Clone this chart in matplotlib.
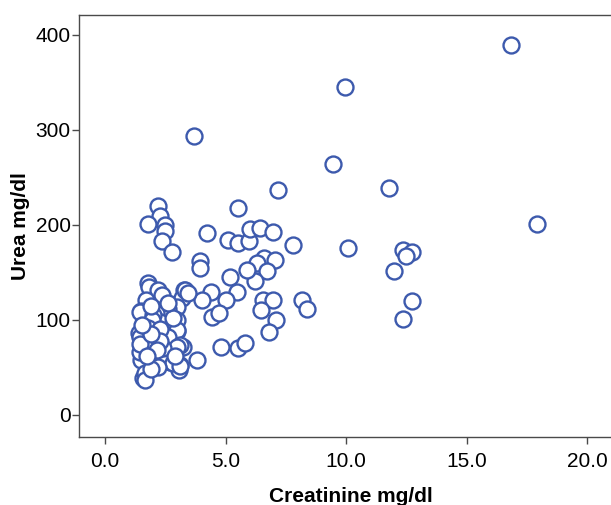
import numpy as np
import matplotlib.pyplot as plt

plt.rcParams['font.family'] = ['Liberation Sans', 'DejaVu Sans']

# creatinine (mg/dl) and urea (mg/dl)
creatinine = [
    16.85, 9.96, 3.69, 9.46, 7.18, 11.78, 17.93, 5.52, 2.20, 2.28,
    1.78, 2.49, 2.49, 2.37, 2.78, 4.23, 5.10, 5.52, 5.98, 6.02,
    6.43, 6.97, 7.80, 10.08, 12.37, 12.74, 12.49, 12.00, 3.94, 3.94,
    6.60, 7.05, 6.31, 6.72, 6.22, 5.89, 5.19, 5.48, 4.40, 4.02,
    5.02, 6.56, 6.97, 6.48, 7.10, 6.80, 8.17, 8.38, 12.74, 12.37,
    4.44, 4.73, 4.81, 5.52, 5.81, 3.82,
    1.78, 1.83, 2.20, 2.36, 1.70, 3.28, 3.20, 3.00, 2.60, 2.10,
    1.50, 2.03, 2.27, 3.00, 2.74, 3.00, 1.42, 1.66, 2.03, 2.50,
    2.92, 3.24, 2.03, 1.50, 2.45, 2.03, 2.68, 1.70, 3.10, 3.07,
    1.70, 1.58, 2.07, 1.50,
    3.32, 1.45, 1.99, 1.95, 3.00, 1.45, 2.00, 2.60, 3.10, 1.45,
    2.50, 3.00, 2.80, 3.10, 1.66, 2.20, 1.66, 3.44,
    1.80, 2.30, 2.80, 1.60, 2.40, 2.90, 1.90, 2.60, 1.90, 2.30,
    1.45, 1.90, 1.55, 2.15, 1.75,
]
urea = [
    389, 345, 294, 264, 237, 239, 201, 218, 220, 209,
    201, 200, 194, 183, 171, 192, 184, 181, 183, 196,
    197, 193, 179, 176, 174, 171, 167, 151, 162, 155,
    165, 163, 160, 152, 141, 153, 145, 129, 129, 121,
    121, 121, 121, 110, 100, 87, 121, 112, 120, 101,
    103, 107, 72, 70, 76, 58,
    139, 135, 132, 126, 121, 132, 123, 114, 111, 107,
    109, 102, 98, 100, 93, 88, 86, 84, 82, 82,
    72, 72, 72, 65, 63, 60, 56, 55, 53, 47,
    45, 39, 51, 58,
    132, 108, 105, 100, 89, 82, 81, 82, 74, 66,
    61, 71, 55, 51, 44, 50, 37, 128,
    92, 90, 102, 75, 70, 62, 48, 118, 115, 78,
    75, 85, 95, 68, 62,
]

x_ticks = [0, 5, 10, 15, 20]
y_ticks = [0, 100, 200, 300, 400]

blue = '#3d5aad'
frame = '#4a4a4a'

fig = plt.figure(figsize=(6.11, 5.05), dpi=100)
ax = fig.add_axes([0.1293, 0.1347, 0.8907, 0.8356])

ax.scatter(creatinine, urea, s=132, facecolors='white', edgecolors=blue,
           linewidths=1.7, zorder=3)

ax.set_xlim(-1.08, 21.5)
ax.set_ylim(-23.2, 421)
ax.set_xticks(x_ticks)
ax.set_xticklabels([f'{v:.1f}' for v in x_ticks])
ax.set_yticks(y_ticks)

for side in ['left', 'bottom', 'top', 'right']:
    ax.spines[side].set_color(frame)
    ax.spines[side].set_linewidth(1.0)

ax.tick_params(axis='both', colors=frame, labelcolor='black', labelsize=15,
               length=5, width=1.0, direction='out')
ax.tick_params(axis='x', pad=6)
ax.tick_params(axis='y', pad=1)

ax.set_xlabel('Creatinine mg/dl', fontsize=15, fontweight='bold', labelpad=11)
ax.set_ylabel('Urea mg/dl', fontsize=15, fontweight='bold', labelpad=4)

fig.savefig('out.png', dpi=100)
